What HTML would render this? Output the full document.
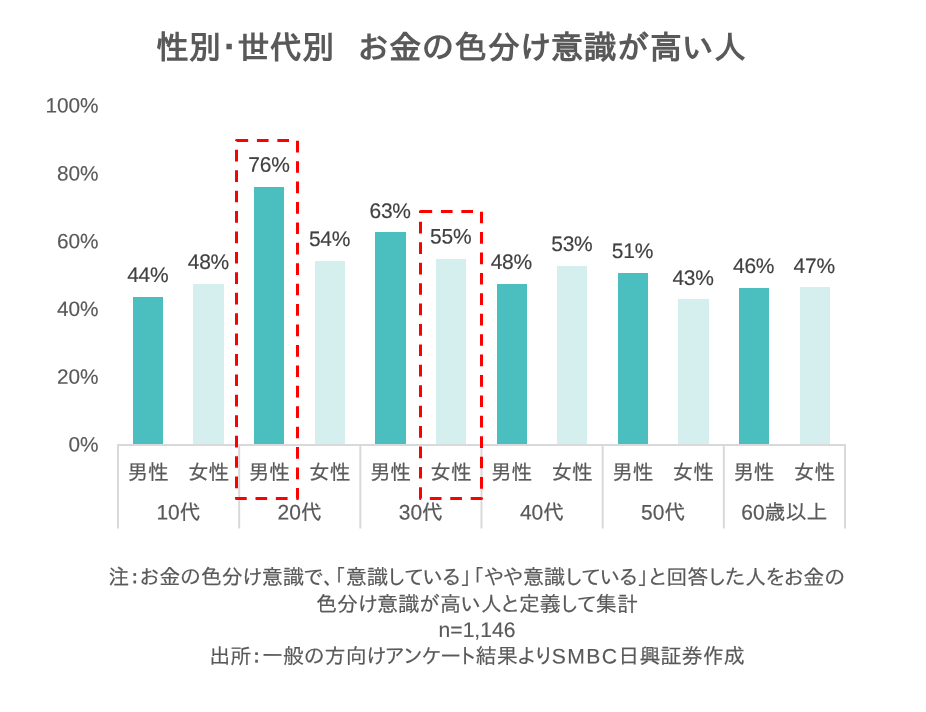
<!DOCTYPE html>
<html lang="ja"><head><meta charset="utf-8"><title>性別･世代別 お金の色分け意識が高い人</title>
<style>
html,body{margin:0;padding:0;background:#fff;}
body{width:926px;height:712px;overflow:hidden;position:relative;}
svg{position:absolute;left:0;top:0;display:block;}
text{font-family:"Liberation Sans","IPAPGothic","IPAGothic","Noto Sans CJK JP",sans-serif;fill:#595959;stroke:#595959;stroke-width:0;text-rendering:geometricPrecision;}
.t{font-size:32.4px;font-weight:bold;stroke-width:0;}
.y{font-size:20.8px;text-anchor:end;stroke-width:0.15;}
.v{letter-spacing:-0.25px;font-size:21px;text-anchor:middle;fill:#404040;stroke:#404040;stroke-width:0.15;}
.g{font-size:20.7px;text-anchor:middle;stroke-width:0.2;}
.c{font-size:21px;text-anchor:middle;stroke-width:0.2;}
.n{font-size:21.1px;text-anchor:middle;stroke-width:0.15;}
</style></head><body>
<svg width="926" height="712" viewBox="0 0 926 712">
<rect x="0" y="0" width="926" height="712" fill="#ffffff"/>
<text class="t" y="58.8" transform="matrix(1 0.0005 0 1 0 -0.2255)"><tspan x="156.3" textLength="178.16" lengthAdjust="spacing">性別･世代別</tspan><tspan x="325.6" textLength="421.45" lengthAdjust="spacing" style="letter-spacing:0.8px" xml:space="preserve">　お金の色分け意識が高い人</tspan></text>
<text class="y" x="98.6" y="451.60" transform="matrix(1 0.0005 0 1 0 -0.0375)">0%</text>
<text class="y" x="98.6" y="383.80" transform="matrix(1 0.0005 0 1 0 -0.0375)">20%</text>
<text class="y" x="98.6" y="316.00" transform="matrix(1 0.0005 0 1 0 -0.0375)">40%</text>
<text class="y" x="98.6" y="248.20" transform="matrix(1 0.0005 0 1 0 -0.0375)">60%</text>
<text class="y" x="98.6" y="180.40" transform="matrix(1 0.0005 0 1 0 -0.0375)">80%</text>
<text class="y" x="98.6" y="112.60" transform="matrix(1 0.0005 0 1 0 -0.0375)">100%</text>
<rect x="133" y="297" width="30" height="147" fill="#4BBFBF"/>
<rect x="193" y="284" width="31" height="160" fill="#D5EFEF"/>
<rect x="254" y="187" width="30" height="257" fill="#4BBFBF"/>
<rect x="315" y="261" width="30" height="183" fill="#D5EFEF"/>
<rect x="375" y="232" width="31" height="212" fill="#4BBFBF"/>
<rect x="436" y="259" width="30" height="185" fill="#D5EFEF"/>
<rect x="497" y="284" width="30" height="160" fill="#4BBFBF"/>
<rect x="557" y="266" width="30" height="178" fill="#D5EFEF"/>
<rect x="618" y="273" width="30" height="171" fill="#4BBFBF"/>
<rect x="678" y="299" width="31" height="145" fill="#D5EFEF"/>
<rect x="739" y="288" width="30" height="156" fill="#4BBFBF"/>
<rect x="800" y="287" width="30" height="157" fill="#D5EFEF"/>
<path d="M118.0 528.5V445H845.0V528.5" fill="none" stroke="#D9D9D9" stroke-width="2"/>
<path d="M239.17 445V528.5" fill="none" stroke="#D9D9D9" stroke-width="2"/>
<path d="M360.33 445V528.5" fill="none" stroke="#D9D9D9" stroke-width="2"/>
<path d="M481.50 445V528.5" fill="none" stroke="#D9D9D9" stroke-width="2"/>
<path d="M602.67 445V528.5" fill="none" stroke="#D9D9D9" stroke-width="2"/>
<path d="M723.83 445V528.5" fill="none" stroke="#D9D9D9" stroke-width="2"/>
<text class="v" x="147.79" y="281.90" transform="matrix(1 0.0005 0 1 0 -0.0741)">44%</text>
<text class="v" x="208.38" y="269.00" transform="matrix(1 0.0005 0 1 0 -0.1044)">48%</text>
<text class="v" x="268.96" y="171.70" transform="matrix(1 0.0005 0 1 0 -0.1347)">76%</text>
<text class="v" x="329.54" y="245.90" transform="matrix(1 0.0005 0 1 0 -0.1650)">54%</text>
<text class="v" x="390.12" y="218.00" transform="matrix(1 0.0005 0 1 0 -0.1953)">63%</text>
<text class="v" x="450.71" y="243.60" transform="matrix(1 0.0005 0 1 0 -0.2256)">55%</text>
<text class="v" x="511.29" y="268.90" transform="matrix(1 0.0005 0 1 0 -0.2559)">48%</text>
<text class="v" x="571.88" y="251.00" transform="matrix(1 0.0005 0 1 0 -0.2862)">53%</text>
<text class="v" x="632.46" y="258.10" transform="matrix(1 0.0005 0 1 0 -0.3165)">51%</text>
<text class="v" x="693.04" y="285.10" transform="matrix(1 0.0005 0 1 0 -0.3468)">43%</text>
<text class="v" x="753.62" y="273.00" transform="matrix(1 0.0005 0 1 0 -0.3771)">46%</text>
<text class="v" x="814.21" y="273.00" transform="matrix(1 0.0005 0 1 0 -0.4074)">47%</text>
<text class="g" x="147.99" y="479.5" transform="matrix(1 0.0005 0 1 0 -0.0741)">男性</text>
<text class="g" x="208.57" y="479.5" transform="matrix(1 0.0005 0 1 0 -0.1044)">女性</text>
<text class="g" x="269.16" y="479.5" transform="matrix(1 0.0005 0 1 0 -0.1347)">男性</text>
<text class="g" x="329.74" y="479.5" transform="matrix(1 0.0005 0 1 0 -0.1650)">女性</text>
<text class="g" x="390.32" y="479.5" transform="matrix(1 0.0005 0 1 0 -0.1953)">男性</text>
<text class="g" x="450.91" y="479.5" transform="matrix(1 0.0005 0 1 0 -0.2256)">女性</text>
<text class="g" x="511.49" y="479.5" transform="matrix(1 0.0005 0 1 0 -0.2559)">男性</text>
<text class="g" x="572.08" y="479.5" transform="matrix(1 0.0005 0 1 0 -0.2862)">女性</text>
<text class="g" x="632.66" y="479.5" transform="matrix(1 0.0005 0 1 0 -0.3165)">男性</text>
<text class="g" x="693.24" y="479.5" transform="matrix(1 0.0005 0 1 0 -0.3468)">女性</text>
<text class="g" x="753.83" y="479.5" transform="matrix(1 0.0005 0 1 0 -0.3771)">男性</text>
<text class="g" x="814.41" y="479.5" transform="matrix(1 0.0005 0 1 0 -0.4074)">女性</text>
<text class="c" x="178.58" y="519.5" transform="matrix(1 0.0005 0 1 0 -0.0893)">10代</text>
<text class="c" x="299.75" y="519.5" transform="matrix(1 0.0005 0 1 0 -0.1499)">20代</text>
<text class="c" x="420.92" y="519.5" transform="matrix(1 0.0005 0 1 0 -0.2105)">30代</text>
<text class="c" x="542.08" y="519.5" transform="matrix(1 0.0005 0 1 0 -0.2710)">40代</text>
<text class="c" x="663.25" y="519.5" transform="matrix(1 0.0005 0 1 0 -0.3316)">50代</text>
<text class="c" x="784.42" y="519.5" transform="matrix(1 0.0005 0 1 0 -0.3922)">60歳以上</text>
<path d="M236.5 140.5H297.5V498.4H236.5Z" fill="none" stroke="#FF0000" stroke-width="3" stroke-linejoin="round" stroke-dasharray="11.67 8.75"/>
<path d="M420.5 211.4H481.5V498.4H420.5Z" fill="none" stroke="#FF0000" stroke-width="3" stroke-linejoin="round" stroke-dasharray="11.67 8.75"/>
<text class="n" x="476.6" y="584.5" transform="matrix(1 0.0005 0 1 0 -0.2385)" textLength="736.61" lengthAdjust="spacing">注：お金の色分け意識で、「意識している」「やや意識している」と回答した人をお金の</text>
<text class="n" x="477" y="611.5" transform="matrix(1 0.0005 0 1 0 -0.2385)" textLength="322.11" lengthAdjust="spacing">色分け意識が高い人と定義して集計</text>
<text class="n" x="477" y="637" transform="matrix(1 0.0005 0 1 0 -0.2385)">n=1,146</text>
<text class="n" x="477" y="663.5" transform="matrix(1 0.0005 0 1 0 -0.2385)" textLength="535.67" lengthAdjust="spacing">出所：一般の方向けアンケート結果より<tspan style="letter-spacing:1.4px">SMBC</tspan>日興証券作成</text>
</svg></body></html>
